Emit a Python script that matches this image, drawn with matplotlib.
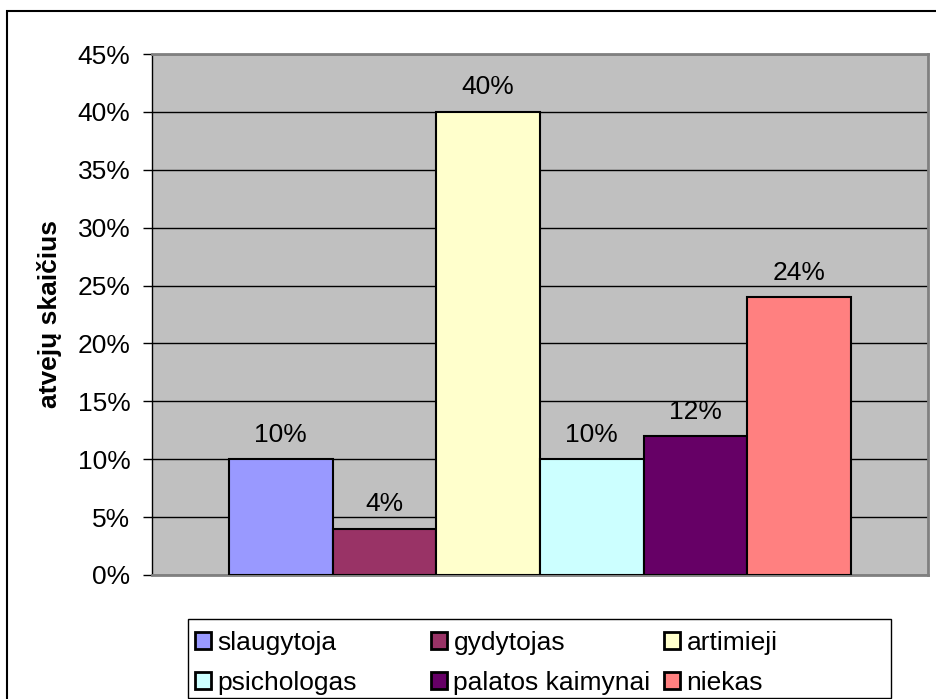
import numpy as np
import matplotlib
matplotlib.use("Agg")
import matplotlib.pyplot as plt
from matplotlib.patches import Patch, Rectangle
from matplotlib.ticker import PercentFormatter, MultipleLocator

plt.rcParams["font.family"] = ["Liberation Sans", "DejaVu Sans"]

labels = ["slaugytoja", "gydytojas", "artimieji", "psichologas", "palatos kaimynai", "niekas"]
values = [0.10, 0.04, 0.40, 0.10, 0.12, 0.24]
colors = ["#9999FF", "#993366", "#FFFFCC", "#CCFFFF", "#660066", "#FF8080"]
ylabel = "atvejų skaičius"

fs = 19

fig = plt.figure(figsize=(9.36, 6.99), dpi=100)
ax = fig.add_axes([152 / 936, 1 - 575 / 699, 776 / 936, 521 / 699])
ax.set_facecolor("#C0C0C0")

# one category, six bars side by side
x = np.arange(len(values)) - (len(values) - 1) / 2
bars = ax.bar(x, values, width=1.0, color=colors, edgecolor="black", linewidth=1.5, zorder=3)

for xi, v in zip(x, values):
    ax.annotate(f"{v * 100:.0f}%", xy=(xi, v), xytext=(0, 9), textcoords="offset points",
                ha="center", va="bottom", fontsize=fs)

ax.set_xlim(-3.743, 3.743)
ax.set_ylim(0, 0.45)
ax.yaxis.set_major_locator(MultipleLocator(0.05))
ax.yaxis.set_major_formatter(PercentFormatter(xmax=1, decimals=0))
ax.set_xticks([])
ax.grid(axis="y", color="black", linewidth=1, zorder=1)
ax.set_axisbelow(True)
ax.tick_params(axis="y", direction="out", length=6.5, width=1, pad=9, labelsize=fs)

for side in ["top", "right", "bottom"]:
    ax.spines[side].set_color("#808080")
    ax.spines[side].set_linewidth(2)
ax.spines["left"].set_color("black")
ax.spines["left"].set_linewidth(1)

ax.set_ylabel(ylabel, fontsize=fs, fontweight="bold")
ax.yaxis.set_label_coords(-0.116, 0.5)

# legend laid out like the Excel one: three fixed-width columns, two rows
col_x = [195, 431, 664]
for c in range(3):
    idx = [c, c + 3]
    handles = [Patch(facecolor=colors[i], edgecolor="black", linewidth=2) for i in idx]
    fig.legend(handles, [labels[i] for i in idx], loc="upper left",
               bbox_to_anchor=(col_x[c] / 936, 1 - 631 / 699), frameon=False,
               fontsize=fs, borderpad=0, borderaxespad=0, handlelength=0.6,
               handleheight=0.6, handletextpad=0.25, labelspacing=0.6)

fig.add_artist(Rectangle((188 / 936, 1 - 698 / 699), 703 / 936, 79 / 699,
                         transform=fig.transFigure, fill=False, edgecolor="black", linewidth=1))
fig.add_artist(Rectangle((7 / 936, -0.05), 1.2, 1 - 11 / 699 + 0.05,
                         transform=fig.transFigure, fill=False, edgecolor="black", linewidth=1.5))

fig.savefig("out.png", dpi=100)
